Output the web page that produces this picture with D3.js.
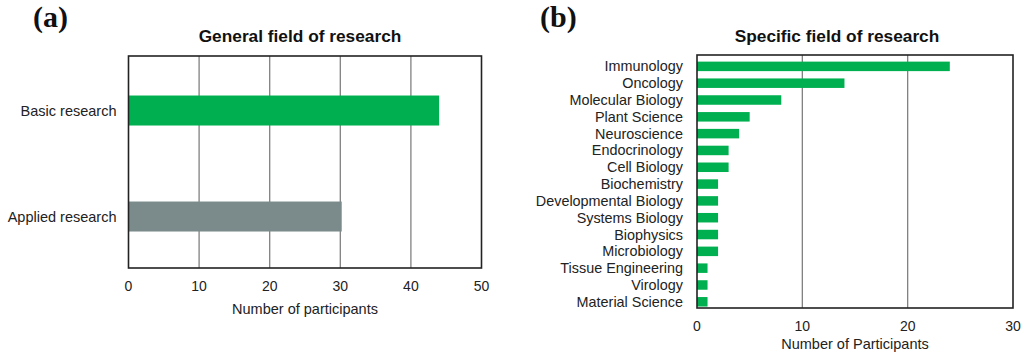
<!DOCTYPE html>
<html>
<head>
<meta charset="utf-8">
<script src="https://cdn.jsdelivr.net/npm/d3@7"></script>
<style>
  body { margin: 0; background: #fff; }
  svg { display: block; font-family: "Liberation Sans", Arial, sans-serif; }
</style>
</head>
<body>
<svg id="chart" width="1024" height="362"></svg>
<script>
// panel (a)
const generalFields = ["Basic research", "Applied research"];
const generalCounts = [44, 30.2];
const generalColors = ["#00b050", "#7b8b8b"];
const generalTicks = [0, 10, 20, 30, 40, 50];

// panel (b)
const specificFields = ["Immunology", "Oncology", "Molecular Biology", "Plant Science",
  "Neuroscience", "Endocrinology", "Cell Biology", "Biochemistry", "Developmental Biology",
  "Systems Biology", "Biophysics", "Microbiology", "Tissue Engineering", "Virology",
  "Material Science"];
const specificCounts = [24, 14, 8, 5, 4, 3, 3, 2, 2, 2, 2, 2, 1, 1, 1];
const specificTicks = [0, 10, 20, 30];

const svg = d3.select("#chart");
const textColor = "#222";

function panel(opt) {
  const g = svg.append("g");
  const x = d3.scaleLinear().domain([0, opt.max]).range([opt.x0, opt.x1]);
  const y = d3.scaleBand().domain(opt.cats).range([opt.y0, opt.y1])
    .paddingInner(opt.pad).paddingOuter(opt.padOuter).align(opt.align);

  // gridlines
  g.selectAll("line.grid").data(opt.ticks.slice(1, -1)).enter().append("line")
    .attr("x1", d => x(d)).attr("x2", d => x(d))
    .attr("y1", opt.y0).attr("y2", opt.y1)
    .attr("stroke", "#808080").attr("stroke-width", 1.3);

  // bars
  g.selectAll("rect.bar").data(opt.cats).enter().append("rect")
    .attr("x", x(0)).attr("y", d => y(d))
    .attr("width", (d, i) => x(opt.vals[i]) - x(0))
    .attr("height", y.bandwidth())
    .attr("fill", (d, i) => opt.colors ? opt.colors[i] : "#00b050");

  // frame
  g.append("rect").attr("x", opt.x0).attr("y", opt.y0)
    .attr("width", opt.x1 - opt.x0).attr("height", opt.y1 - opt.y0)
    .attr("fill", "none").attr("stroke", "#222").attr("stroke-width", 1.6);

  // category labels
  g.selectAll("text.cat").data(opt.cats).enter().append("text")
    .attr("x", opt.x0 - opt.labelGap).attr("y", d => y(d) + y.bandwidth() / 2)
    .attr("dy", "0.35em").attr("text-anchor", "end")
    .attr("font-size", opt.labelSize).attr("fill", textColor).text(d => d);

  // tick labels
  g.selectAll("text.tick").data(opt.ticks).enter().append("text")
    .attr("x", d => x(d)).attr("y", opt.tickY)
    .attr("text-anchor", "middle").attr("font-size", 14).attr("fill", textColor)
    .text(d => d);

  g.append("text").attr("x", (opt.x0 + opt.x1) / 2).attr("y", opt.axisTitleY)
    .attr("text-anchor", "middle").attr("font-size", 14.5).attr("fill", textColor)
    .text(opt.axisTitle);

  g.append("text").attr("x", opt.titleX).attr("y", 42)
    .attr("text-anchor", "middle").attr("font-size", 17.3).attr("font-weight", "bold")
    .attr("fill", "#111").text(opt.title);

  g.append("text").attr("x", opt.tagX).attr("y", 27)
    .attr("font-family", "'Liberation Serif', 'Times New Roman', serif")
    .attr("font-size", 30).attr("font-weight", "bold").attr("fill", "#111")
    .text(opt.tag);
}

panel({
  cats: generalFields, vals: generalCounts, colors: generalColors, ticks: generalTicks, max: 50,
  x0: 128.5, x1: 481.5, y0: 56, y1: 268, pad: 0.717, padOuter: 0.3585, align: 0.52,
  labelGap: 12, labelSize: 14.5, tickY: 291, axisTitleY: 314,
  axisTitle: "Number of participants", title: "General field of research", titleX: 300,
  tag: "(a)", tagX: 33
});

panel({
  cats: specificFields, vals: specificCounts, ticks: specificTicks, max: 30,
  x0: 697, x1: 1013, y0: 55, y1: 308, pad: 0.435, padOuter: 0.24, align: 0.82,
  labelGap: 14, labelSize: 14.4, tickY: 331, axisTitleY: 349,
  axisTitle: "Number of Participants", title: "Specific field of research", titleX: 837,
  tag: "(b)", tagX: 540
});
</script>
</body>
</html>
